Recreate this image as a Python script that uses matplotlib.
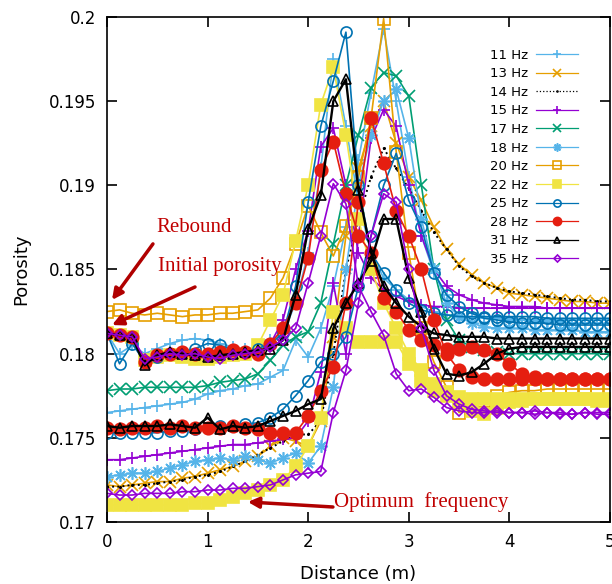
import numpy as np
import matplotlib
matplotlib.use('Agg')
import matplotlib.pyplot as plt
from matplotlib.ticker import FuncFormatter

# distance grid (m)
dist = np.linspace(0, 5, 41)

# porosity; *_b = second curve drawn with the same style
hz11 = [0.1765, 0.1766, 0.1767, 0.1768, 0.1769, 0.1770, 0.1771, 0.1773, 0.1776, 0.1778,
        0.1779, 0.1781, 0.1782, 0.1786, 0.1790, 0.1808, 0.1798, 0.1815, 0.1840, 0.1875,
        0.1915, 0.1955, 0.1993, 0.1950, 0.1905, 0.1870, 0.1848, 0.1835, 0.1828, 0.1824,
        0.1822, 0.1821, 0.1820, 0.1820, 0.1819, 0.1819, 0.1819, 0.1818, 0.1818, 0.1818, 0.1818]
hz11_b = [0.1812, 0.1800, 0.1805, 0.1800, 0.1803, 0.1806, 0.1808, 0.1809, 0.1808, 0.1806,
          0.1804, 0.1803, 0.1803, 0.1808, 0.1812, 0.1830, 0.1860, 0.1910, 0.1975, 0.1935,
          0.1890, 0.1860, 0.1845, 0.1838, 0.1832, 0.1828, 0.1825, 0.1823, 0.1822, 0.1822,
          0.1821, 0.1821, 0.1821, 0.1820, 0.1820, 0.1820, 0.1820, 0.1820, 0.1820, 0.1820, 0.1820]
hz13 = [0.1722, 0.1721, 0.1722, 0.1723, 0.1724, 0.1724, 0.1726, 0.1727, 0.1729, 0.1731,
        0.1733, 0.1736, 0.1739, 0.1745, 0.1750, 0.1748, 0.1745, 0.1760, 0.1810, 0.1870,
        0.1910, 0.1935, 0.1950, 0.1925, 0.1905, 0.1891, 0.1875, 0.1862, 0.1853, 0.1847,
        0.1842, 0.1839, 0.1836, 0.1835, 0.1834, 0.1833, 0.1832, 0.1831, 0.1831, 0.1830, 0.1830]
hz14 = [0.1721, 0.1721, 0.1722, 0.1722, 0.1723, 0.1724, 0.1725, 0.1727, 0.1728, 0.1730,
        0.1733, 0.1736, 0.1740, 0.1744, 0.1748, 0.1752, 0.1752, 0.1760, 0.1800, 0.1850,
        0.1880, 0.1905, 0.1922, 0.1910, 0.1898, 0.1885, 0.1872, 0.1862, 0.1852, 0.1846,
        0.1842, 0.1839, 0.1837, 0.1836, 0.1835, 0.1834, 0.1833, 0.1832, 0.1832, 0.1831, 0.1831]
hz15 = [0.1737, 0.1737, 0.1738, 0.1739, 0.1740, 0.1741, 0.1742, 0.1743, 0.1744, 0.1745,
        0.1746, 0.1746, 0.1747, 0.1748, 0.1749, 0.1750, 0.1760, 0.1789, 0.1842, 0.1800,
        0.1870, 0.1928, 0.1945, 0.1935, 0.1900, 0.1870, 0.1850, 0.1840, 0.1835, 0.1832,
        0.1830, 0.1829, 0.1828, 0.1828, 0.1828, 0.1827, 0.1827, 0.1827, 0.1827, 0.1827, 0.1827]
hz15_b = [0.1812, 0.1811, 0.1810, 0.1796, 0.1799, 0.1800, 0.1800, 0.1799, 0.1799, 0.1800,
          0.1801, 0.1801, 0.1802, 0.1806, 0.1820, 0.1850, 0.1873, 0.1923, 0.1934, 0.1900,
          0.1860, 0.1845, 0.1838, 0.1834, 0.1831, 0.1829, 0.1828, 0.1828, 0.1827, 0.1827,
          0.1827, 0.1827, 0.1827, 0.1827, 0.1827, 0.1827, 0.1827, 0.1827, 0.1827, 0.1827, 0.1827]
hz17 = [0.1778, 0.1779, 0.1779, 0.1780, 0.1780, 0.1780, 0.1780, 0.1780, 0.1781, 0.1783,
        0.1784, 0.1785, 0.1788, 0.1796, 0.1805, 0.1810, 0.1813, 0.1830, 0.1865, 0.1900,
        0.1930, 0.1958, 0.1967, 0.1965, 0.1953, 0.1900, 0.1850, 0.1820, 0.1808, 0.1804,
        0.1802, 0.1801, 0.1800, 0.1800, 0.1800, 0.1800, 0.1800, 0.1800, 0.1800, 0.1800, 0.1800]
hz18 = [0.1727, 0.1728, 0.1729, 0.1729, 0.1730, 0.1732, 0.1734, 0.1736, 0.1737, 0.1738,
        0.1737, 0.1739, 0.1737, 0.1735, 0.1738, 0.1741, 0.1735, 0.1745, 0.1780, 0.1850,
        0.1900, 0.1930, 0.1950, 0.1957, 0.1928, 0.1880, 0.1850, 0.1830, 0.1822, 0.1818,
        0.1816, 0.1815, 0.1815, 0.1815, 0.1814, 0.1814, 0.1814, 0.1814, 0.1813, 0.1813, 0.1813]
hz20 = [0.1825, 0.1826, 0.1824, 0.1823, 0.1824, 0.1823, 0.1822, 0.1823, 0.1823, 0.1824,
        0.1824, 0.1825, 0.1826, 0.1833, 0.1845, 0.1865, 0.1888, 0.1872, 0.1858, 0.1876,
        0.1905, 0.1940, 0.1999, 0.1920, 0.1860, 0.1815, 0.1795, 0.1780, 0.1765, 0.1768,
        0.1772, 0.1775, 0.1777, 0.1778, 0.1778, 0.1779, 0.1779, 0.1779, 0.1779, 0.1779, 0.1779]
hz22 = [0.1710, 0.1710, 0.1710, 0.1710, 0.1710, 0.1710, 0.1710, 0.1711, 0.1711, 0.1713,
        0.1715, 0.1717, 0.1719, 0.1722, 0.1725, 0.1733, 0.1745, 0.1762, 0.1825, 0.1815,
        0.1807, 0.1807, 0.1807, 0.1807, 0.1794, 0.1784, 0.1778, 0.1775, 0.1770, 0.1766,
        0.1764, 0.1768, 0.1771, 0.1772, 0.1773, 0.1773, 0.1773, 0.1773, 0.1773, 0.1772, 0.1772]
hz22_b = [0.1812, 0.1811, 0.1810, 0.1796, 0.1798, 0.1799, 0.1798, 0.1797, 0.1797, 0.1798,
          0.1799, 0.1800, 0.1805, 0.1820, 0.1835, 0.1867, 0.1900, 0.1948, 0.1970, 0.1930,
          0.1880, 0.1850, 0.1830, 0.1815, 0.1800, 0.1790, 0.1782, 0.1777, 0.1774, 0.1773,
          0.1773, 0.1773, 0.1773, 0.1773, 0.1773, 0.1773, 0.1773, 0.1773, 0.1773, 0.1773, 0.1773]
hz25 = [0.1753, 0.1753, 0.1753, 0.1753, 0.1753, 0.1754, 0.1754, 0.1755, 0.1756, 0.1757,
        0.1757, 0.1758, 0.1759, 0.1762, 0.1767, 0.1775, 0.1784, 0.1795, 0.1800, 0.1810,
        0.1840, 0.1870, 0.1900, 0.1919, 0.1891, 0.1875, 0.1848, 0.1835, 0.1828, 0.1824,
        0.1821, 0.1820, 0.1819, 0.1818, 0.1818, 0.1818, 0.1817, 0.1817, 0.1817, 0.1817, 0.1817]
hz25_b = [0.1812, 0.1794, 0.1806, 0.1795, 0.1798, 0.1800, 0.1801, 0.1803, 0.1806, 0.1805,
          0.1802, 0.1801, 0.1803, 0.1806, 0.1812, 0.1840, 0.1890, 0.1935, 0.1962, 0.1991,
          0.1900, 0.1860, 0.1848, 0.1838, 0.1830, 0.1826, 0.1824, 0.1823, 0.1822, 0.1822,
          0.1822, 0.1822, 0.1822, 0.1822, 0.1822, 0.1821, 0.1821, 0.1821, 0.1821, 0.1821, 0.1821]
hz28 = [0.1756, 0.1755, 0.1756, 0.1756, 0.1757, 0.1756, 0.1757, 0.1756, 0.1756, 0.1756,
        0.1757, 0.1756, 0.1755, 0.1753, 0.1753, 0.1753, 0.1763, 0.1778, 0.1792, 0.1830,
        0.1890, 0.1940, 0.1913, 0.1885, 0.1870, 0.1850, 0.1820, 0.1800, 0.1790, 0.1786,
        0.1785, 0.1785, 0.1785, 0.1785, 0.1785, 0.1785, 0.1785, 0.1785, 0.1785, 0.1785, 0.1785]
hz28_b = [0.1812, 0.1811, 0.1810, 0.1795, 0.1799, 0.1800, 0.1801, 0.1800, 0.1800, 0.1801,
          0.1802, 0.1801, 0.1800, 0.1806, 0.1815, 0.1830, 0.1857, 0.1909, 0.1926, 0.1895,
          0.1870, 0.1860, 0.1833, 0.1825, 0.1814, 0.1808, 0.1805, 0.1803, 0.1803, 0.1804,
          0.1802, 0.1800, 0.1794, 0.1788, 0.1786, 0.1785, 0.1785, 0.1785, 0.1785, 0.1785, 0.1785]
hz31 = [0.1757, 0.1756, 0.1757, 0.1757, 0.1757, 0.1758, 0.1757, 0.1756, 0.1762, 0.1755,
        0.1757, 0.1756, 0.1757, 0.1760, 0.1763, 0.1766, 0.1770, 0.1773, 0.1815, 0.1830,
        0.1842, 0.1855, 0.1880, 0.1880, 0.1845, 0.1825, 0.1803, 0.1788, 0.1787, 0.1789,
        0.1794, 0.1800, 0.1803, 0.1804, 0.1804, 0.1804, 0.1804, 0.1804, 0.1804, 0.1804, 0.1804]
hz31_b = [0.1812, 0.1811, 0.1810, 0.1793, 0.1799, 0.1801, 0.1800, 0.1799, 0.1798, 0.1799,
          0.1800, 0.1801, 0.1802, 0.1803, 0.1808, 0.1835, 0.1874, 0.1894, 0.1950, 0.1963,
          0.1897, 0.1860, 0.1840, 0.1830, 0.1822, 0.1816, 0.1812, 0.1811, 0.1810, 0.1810,
          0.1810, 0.1809, 0.1809, 0.1809, 0.1809, 0.1809, 0.1809, 0.1809, 0.1809, 0.1809, 0.1809]
hz35 = [0.1717, 0.1716, 0.1716, 0.1717, 0.1717, 0.1717, 0.1718, 0.1718, 0.1719, 0.1719,
        0.1720, 0.1720, 0.1721, 0.1722, 0.1725, 0.1728, 0.1729, 0.1730, 0.1765, 0.1790,
        0.1830, 0.1870, 0.1895, 0.1890, 0.1850, 0.1815, 0.1790, 0.1775, 0.1770, 0.1767,
        0.1766, 0.1765, 0.1765, 0.1765, 0.1764, 0.1765, 0.1764, 0.1764, 0.1765, 0.1764, 0.1764]
hz35_b = [0.1812, 0.1811, 0.1810, 0.1797, 0.1798, 0.1800, 0.1799, 0.1800, 0.1798, 0.1797,
          0.1799, 0.1800, 0.1801, 0.1804, 0.1808, 0.1815, 0.1842, 0.1870, 0.1901, 0.1889,
          0.1840, 0.1825, 0.1811, 0.1788, 0.1778, 0.1779, 0.1774, 0.1768, 0.1766, 0.1765,
          0.1765, 0.1766, 0.1765, 0.1765, 0.1766, 0.1765, 0.1765, 0.1764, 0.1765, 0.1765, 0.1765]

# label, curves, color, marker, markersize, filled, linestyle, linewidth
series = [
    ('11 Hz', [hz11, hz11_b], '#56b4e9', '+', 9, True, '-', 1.2),
    ('13 Hz', [hz13], '#e69f00', 'x', 8, True, '-', 1.2),
    ('14 Hz', [hz14], 'black', '.', 2, True, ':', 1.4),
    ('15 Hz', [hz15, hz15_b], '#9400d3', '+', 9, True, '-', 1.2),
    ('17 Hz', [hz17], '#009e73', 'x', 8, True, '-', 1.2),
    ('18 Hz', [hz18], '#56b4e9', (8, 2, 0), 9, True, '-', 1.2),
    ('20 Hz', [hz20], '#e69f00', 's', 8, False, '-', 1.2),
    ('22 Hz', [hz22, hz22_b], '#f0e442', 's', 8, True, '-', 1.2),
    ('25 Hz', [hz25, hz25_b], '#0072b2', 'o', 8, False, '-', 1.2),
    ('28 Hz', [hz28, hz28_b], '#e51e10', 'o', 9, True, '-', 1.2),
    ('31 Hz', [hz31, hz31_b], 'black', '^', 7.5, False, '-', 1.7),
    ('35 Hz', [hz35, hz35_b], '#9400d3', 'D', 5.5, False, '-', 1.2),
]

fig = plt.figure(figsize=(6.12, 5.84), dpi=100)
ax = fig.add_axes([0.1748, 0.1062, 0.8219, 0.8647])

for label, curves, col, mk, ms, filled, ls, lw in series:
    for k, ys in enumerate(curves):
        ax.plot(dist, ys, color=col, marker=mk, markersize=ms, linestyle=ls,
                linewidth=lw, markeredgewidth=1.2,
                markerfacecolor=col if filled else 'none',
                label=label if k == 0 else '_nolegend_')

ax.set_xlim(0, 5)
ax.set_ylim(0.17, 0.2)
ax.set_xticks([0, 1, 2, 3, 4, 5])
ax.set_yticks([0.17, 0.175, 0.18, 0.185, 0.19, 0.195, 0.2])
ax.yaxis.set_major_formatter(FuncFormatter(lambda v, p: '%g' % round(v, 4)))
ax.tick_params(direction='in', length=7, width=1.2, labelsize=12, pad=8,
               top=True, right=True)
for sp in ax.spines.values():
    sp.set_linewidth(1.2)
ax.set_xlabel('Distance (m)', fontsize=13, labelpad=10)
ax.set_ylabel('Porosity', fontsize=13, labelpad=13)

leg = ax.legend(loc='upper right', bbox_to_anchor=(0.95, 0.95), frameon=False,
                fontsize=9.5, markerfirst=False, handlelength=3.2,
                labelspacing=0.42, borderpad=0, markerscale=0.65, handletextpad=0.6)
for h in leg.get_lines():
    h.set_linewidth(0.9)

red = '#c00000'
arrow = dict(arrowstyle='-|>', color='#b00000', lw=2.5, mutation_scale=16,
             shrinkA=0, shrinkB=0)
ax.text(0.865, 0.18747, 'Rebound', color=red, fontsize=15,
        family='Liberation Serif', ha='center', va='center')
ax.text(1.123, 0.18515, 'Initial porosity', color=red, fontsize=15,
        family='Liberation Serif', ha='center', va='center')
ax.text(3.12, 0.17119, 'Optimum  frequency', color=red, fontsize=15,
        family='Liberation Serif', ha='center', va='center')
ax.annotate('', xy=(0.05, 0.18319), xytext=(0.457, 0.18652), arrowprops=arrow)
ax.annotate('', xy=(0.05, 0.1817), xytext=(0.875, 0.18396), arrowprops=arrow)
ax.annotate('', xy=(1.40, 0.17119), xytext=(2.246, 0.17089), arrowprops=arrow)

fig.savefig('out.png', dpi=100)
